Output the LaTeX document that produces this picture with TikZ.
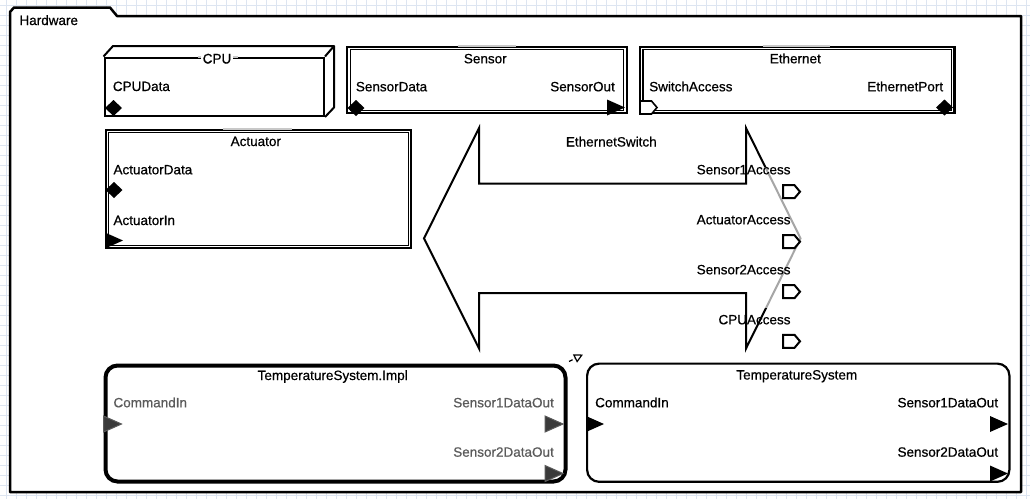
\documentclass[tikz,border=0pt]{standalone}
\usepackage{fontspec}
\setmainfont{Liberation Sans}[UprightFeatures={FakeBold=0.6}]
\usetikzlibrary{arrows.meta,calc}

\definecolor{gridline}{HTML}{DDE5F1}
\definecolor{implport}{HTML}{5A5A5A}
\definecolor{implfill}{HTML}{3A3A3A}
\definecolor{titlegap}{HTML}{C8C8C8}

\tikzset{
  txt/.style={font=\fontsize{13.5}{16}\selectfont, inner sep=0},
  plabel/.style={txt, fill=white, fill opacity=0.7, text opacity=1, inner xsep=4, inner ysep=3},
  compbox/.style={draw, line width=2.2, anchor=north west, inner sep=0},
  innerline/.style={line width=1.2},
  % diamond port (data access), centred on its position
  pics/dport/.style={code={\fill (-8.5,0) -- (0,-8) -- (8.5,0) -- (0,8) -- cycle;}},
  % triangular port (event/data port), placed by its left middle point
  pics/tport/.style={code={\path[pic actions] (0,-8) -- (18,0) -- (0,8) -- cycle;}},
  % bus access port, placed by its left middle point
  pics/bport/.style={code={\path[pic actions] (0,-6.5) -- (11.5,-6.5) -- (17,0) -- (11.5,6.5) -- (0,6.5) -- cycle;}},
}

\begin{document}
\begin{tikzpicture}[x=1pt,y=-1pt]
\useasboundingbox (0,0) rectangle (1030,499);
\fill[white] (0,0) rectangle (1030,499);

% background grid
\foreach \gx in {0,...,102} \draw[gridline, line width=0.7] ({6.7+10*\gx},0) -- ({6.7+10*\gx},499);
\foreach \gy in {0,...,49} \draw[gridline, line width=0.7] (0,{5+10*\gy}) -- (1030,{5+10*\gy});

% Hardware package frame with tab
\path[draw, line width=2.5, fill=white, line join=round]
  (10,492) -- (10,12) -- (14,7.5) -- (110,7.5) -- (117,16) -- (1021,16) -- (1021,492) -- cycle;
\node[txt, anchor=base west] (hwtitle) at (19.3,25) {Hardware};

% CPU (processor, 3D box)
\node[compbox, line width=2, minimum width=219.5, minimum height=58.5] (cpu) at (103.5,56.5) {};
\draw[line width=2, line join=round]
  (cpu.north west) -- ($(cpu.north west)+(9.5,-10.5)$) -- ($(cpu.north east)+(9,-10.5)$)
  -- ($(cpu.south east)+(9,-9.5)$) -- (cpu.south east);
\draw[line width=2] (cpu.north east) -- ($(cpu.north east)+(9,-10.5)$);
\node[txt, anchor=base] (cputitle) at (217,63.3) {CPU};
\draw[titlegap, line width=2] ($(cputitle.center |- cpu.north)+(-19,0)$) -- ($(cputitle.center |- cpu.north)+(21,0)$);
\node[txt, anchor=base, fill=white, inner xsep=1.5] at (cputitle.base) {CPU};

% Sensor (device)
\node[compbox, minimum width=279.5, minimum height=66] (sensor) at (346,45.7) {};
\draw[innerline] ($(sensor.north west)+(4.5,3.8)$) rectangle ($(sensor.south east)+(-4,-3.6)$);
\draw[titlegap, line width=2.2] ($(sensor.north)+(-29,0)$) -- ($(sensor.north)+(29.5,0)$);
\node[txt, anchor=base] (sensortitle) at (485.3,63.3) {Sensor};

% Ethernet (bus-like device)
\node[compbox, minimum width=314.3, minimum height=66] (eth) at (639,45.7) {};
\draw[innerline] ($(eth.north west)+(4,3.8)$) rectangle ($(eth.south east)+(-4,-3.6)$);
\draw[titlegap, line width=2.2] (763.3,45.7) -- (830,45.7);
\node[txt, anchor=base] (ethtitle) at (795.3,63.3) {Ethernet};

% Actuator (device)
\node[compbox, minimum width=305.5, minimum height=117.7] (act) at (104.5,129) {};
\draw[innerline] ($(act.north west)+(4,3.8)$) rectangle ($(act.south east)+(-4,-3.6)$);
\draw[titlegap, line width=2.2] (223.3,129) -- (291.7,129);
\node[txt, anchor=base] (acttitle) at (255.8,146) {Actuator};

% EthernetSwitch (bus, double-headed block arrow)
\draw[line width=2, line join=miter]
  (424,238.3) -- (479,128) -- (479,183.5) -- (746,183.5) -- (746,128) -- (800.5,238.3)
  -- (746,348.5) -- (746,293) -- (479,293) -- (479,348.5) -- cycle;
\fill[white, opacity=0.65] (763,167) rectangle (806,308);
\node[txt, anchor=base] (swtitle) at (611.3,146.5) {EthernetSwitch};

% TemperatureSystem.Impl and TemperatureSystem
\node[compbox, line width=4, rounded corners=12, minimum width=460, minimum height=116] (impl) at (103.5,363.5) {};
\node[txt, anchor=base] (impltitle) at (332.7,380) {TemperatureSystem.Impl};
\node[compbox, line width=2.2, rounded corners=12, minimum width=422.3, minimum height=118.2] (ts) at (586,362.5) {};
\node[txt, anchor=base] (tstitle) at (796.8,379.5) {TemperatureSystem};

% extension relation
\draw[line width=1.2, dash pattern=on 4pt off 2.5pt, -{Triangle[open, length=9pt, width=9pt]}]
  ($(impl.north east)+(1.5,-2)$) -- ($(ts.north west)+(-3,-8)$);

% port labels
\node[plabel, anchor=base west] (l-cpudata) at (108.7,91) {CPUData};
\node[plabel, anchor=base west] (l-sensordata) at (351.7,91.3) {SensorData};
\node[plabel, anchor=base east] (l-sensorout) at (619,91.3) {SensorOut};
\node[plabel, anchor=base west] (l-switchaccess) at (645,91.3) {SwitchAccess};
\node[plabel, anchor=base east] (l-ethport) at (947.3,91.3) {EthernetPort};
\node[plabel, anchor=base west] (l-actdata) at (109.3,174.3) {ActuatorData};
\node[plabel, anchor=base west] (l-actin) at (109.3,225) {ActuatorIn};
\node[txt, anchor=base east] (l-s1acc) at (790.7,174.3) {Sensor1Access};
\node[txt, anchor=base east] (l-actacc) at (790.7,224.3) {ActuatorAccess};
\node[txt, anchor=base east] (l-s2acc) at (790.7,274.3) {Sensor2Access};
\node[txt, anchor=base east] (l-cpuacc) at (790.7,324.3) {CPUAccess};
\node[plabel, anchor=base west, text=implport] (l-icmd) at (109.3,407.3) {CommandIn};
\node[plabel, anchor=base east, text=implport] (l-is1) at (558,407.3) {Sensor1DataOut};
\node[plabel, anchor=base east, text=implport] (l-is2) at (558,456.7) {Sensor2DataOut};
\node[plabel, anchor=base west] (l-tcmd) at (591,407.3) {CommandIn};
\node[plabel, anchor=base east] (l-ts1) at (1002.3,407.3) {Sensor1DataOut};
\node[plabel, anchor=base east] (l-ts2) at (1002.3,456.7) {Sensor2DataOut};

% ports
\pic at (113.5,108) {dport};
\pic at (356,108) {dport};
\pic at (944.5,107.5) {dport};
\pic at (114,190) {dport};
\pic[fill=black] at (607,107.5) {tport};
\pic[fill=black] at (105,240.5) {tport};
\pic[fill=white, draw=black, line width=1.6] at (640,107.5) {bport};
\foreach \py in {191.7,241.7,291.7,341.3}
  \pic[fill=white, draw=black, line width=2] at (783,\py) {bport};
\pic[fill=implfill, draw=implport, line width=1] at (103.5,424) {tport};
\pic[fill=implfill, draw=implport, line width=1] at (545,424) {tport};
\pic[fill=implfill, draw=implport, line width=1] at (545,473.5) {tport};
\pic[fill=black] at (586,424) {tport};
\pic[fill=black] at (990,424) {tport};
\pic[fill=black] at (990,473.5) {tport};
\end{tikzpicture}
\end{document}
